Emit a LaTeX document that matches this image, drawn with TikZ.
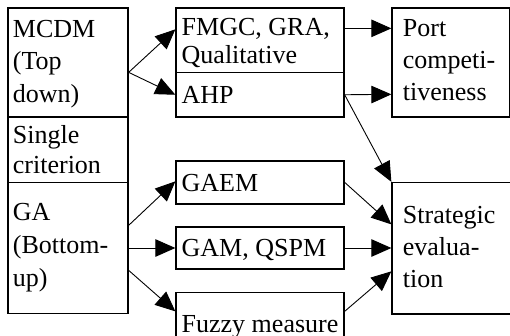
\documentclass[tikz,border=0pt]{standalone}
\usepackage{fontspec}
\setmainfont{Liberation Serif}
\usetikzlibrary{arrows.meta,calc,fit}

% a block of lines set at 26pt with a chosen line distance
\newcommand\txtblock[2]{\parbox[t]{200pt}{\fontsize{26}{#1}\selectfont #2}}

\begin{document}
\begin{tikzpicture}[x=1pt,y=-1pt,
  box/.style={draw=black, line width=1.3pt, inner sep=0pt, fill=none},
  lbl/.style={anchor=base west, inner sep=0pt},
  link/.style={draw=black, line width=0.9pt,
    -{Triangle[length=20pt,width=17.5pt]}}]

\useasboundingbox (0,0) rectangle (510,335);
\clip (0,0) rectangle (510,335);
\fill[white] (0,0) rectangle (510,335);

% left column
\node[box, fit={(8,8) (128,117)}] (mcdm) {};
\node[box, fit={(8,117) (128,182.5)}] (single) {};
\node[box, fit={(8,182.5) (128,313.5)}] (ga) {};

% middle column
\node[box, fit={(176,8) (344,72.5)}] (fmgc) {};
\node[box, fit={(176,72.5) (344,117)}] (ahp) {};
\node[box, fit={(176,161) (344,204)}] (gaem) {};
\node[box, fit={(176,227) (344,269)}] (gam) {};
\node[box, fit={(176,292.5) (344,345)}] (fuzzy) {};

% right column
\node[box, fit={(392,8) (509.3,117)}] (port) {};
\node[box, fit={(392,182.5) (520,314)}] (strat) {};

% texts
\node[lbl] (mcdmtxt) at (12.7,37.3) {\txtblock{32.5}{MCDM\\(Top\\down)}};
\node[lbl] (singletxt) at (12.7,143.3) {\txtblock{30}{Single\\criterion}};
\node[lbl] (gatxt) at (12.7,220) {\txtblock{33}{GA\\(Bottom-\\up)}};
\node[lbl] (fmgctxt) at (181.5,35) {\txtblock{28}{FMGC, GRA,\\Qualitative}};
\node[lbl] (ahptxt) at (181.5,103) {\txtblock{28}{AHP}};
\node[lbl] (gaemtxt) at (181.5,191) {\txtblock{28}{GAEM}};
\node[lbl] (gamtxt) at (181.5,256) {\txtblock{28}{GAM, QSPM}};
\node[lbl] (fuzzytxt) at (181.5,332) {\txtblock{28}{Fuzzy measure}};
\node[lbl] (porttxt) at (402.7,36.7) {\txtblock{32}{Port\\competi-\\tiveness}};
\node[lbl] (strattxt) at (402.7,223.3) {\txtblock{32}{Strategic\\evalua-\\tion}};

% connector ends
\coordinate (mcdm-o) at ($(mcdm.north east)+(0,65)$);
\coordinate (fmgc-i) at ($(fmgc.north west)+(0,22)$);
\coordinate (fmgc-o) at ($(fmgc.north east)+(0,21)$);
\coordinate (port-i1) at ($(port.north west)+(0,21)$);
\coordinate (port-i2) at ($(port.north west)+(0,87)$);
\coordinate (gaem-o) at ($(gaem.north east)+(0,22)$);
\coordinate (gaem-i) at ($(gaem.north west)+(0,21)$);
\coordinate (strat-i1) at ($(strat.north west)+(0,42.5)$);
\coordinate (strat-i3) at ($(strat.north west)+(0,89.5)$);
\coordinate (fuzzy-o) at ($(fuzzy.north east)+(0,19.5)$);
\coordinate (fuzzy-i) at ($(fuzzy.north west)+(0,19.5)$);
\coordinate (ga-o1) at ($(ga.north east)+(0,43.5)$);
\coordinate (ga-o3) at ($(ga.north east)+(0,88.5)$);

% connectors
\draw[link] (mcdm-o) -- (fmgc-i);
\draw[link] (mcdm-o) -- (ahp.west);
\draw[link] (fmgc-o) -- (port-i1);
\draw[link] (ahp.east) -- (port-i2);
\draw[link] (ahp.east) -- (strat.north west);
\draw[link] (gaem-o) -- (strat-i1);
\draw[link] (gam.east) -- (gam.east -| strat.west);
\draw[link] (fuzzy-o) -- (strat-i3);
\draw[link] (ga-o1) -- (gaem-i);
\draw[link] (gam.west -| ga.east) -- (gam.west);
\draw[link] (ga-o3) -- (fuzzy-i);

\end{tikzpicture}
\end{document}
